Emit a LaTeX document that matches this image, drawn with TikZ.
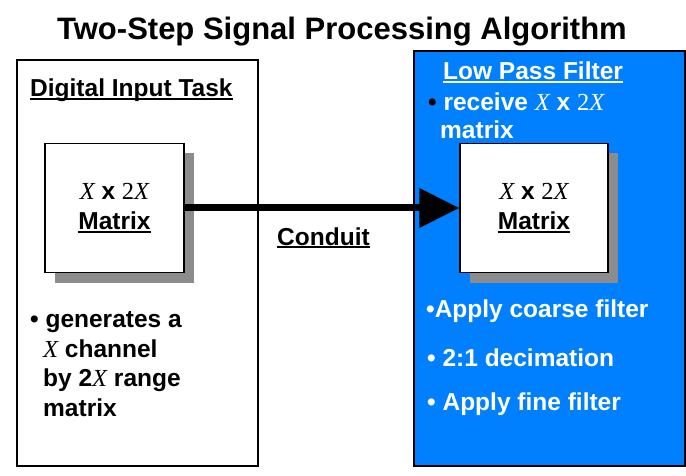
\documentclass[tikz,border=0pt]{standalone}
\usepackage{fontspec}
\setmainfont{Liberation Sans}
\newfontfamily\tnr{Liberation Serif}
\usetikzlibrary{arrows.meta,shadows}

\definecolor{lpfblue}{HTML}{0080FF}
\definecolor{shade}{HTML}{8C8C8C}

% italic serif variable and a plain underline
\newcommand\vX{{\tnr\mdseries\itshape X}}
\newcommand\two{{\tnr\mdseries 2}}
\newcommand\undl[1]{\setbox0\hbox{#1}\rlap{\rule[-3pt]{\wd0}{1.6pt}}\box0}

\tikzset{
  body/.style={font=\fontsize{24.5}{28}\selectfont\bfseries, inner sep=0pt, anchor=base west},
  matbox/.style={draw, fill=white, line width=1.2pt, minimum height=129pt,
    align=center, font=\fontsize{24.5}{30}\selectfont\bfseries,
    general shadow={fill=shade, shadow xshift=10pt, shadow yshift=-10pt}},
}

\begin{document}
\begin{tikzpicture}[x=1pt,y=-1pt]
  \useasboundingbox (0,0) rectangle (686,476);

  \node (title) [font=\fontsize{31}{36}\selectfont\bfseries, inner sep=0pt, anchor=base] at (342,40) {Two-Step Signal Processing Algorithm};

  % the two tasks
  \draw[line width=1.2pt] (17,60) rectangle (258,466);
  \draw[line width=1.2pt, fill=lpfblue] (414,51) rectangle (685,466);

  % left: digital input
  \node (dit) [body] at (30,97) {\undl{Digital Input Task}};
  \node (srcmat) [matbox, minimum width=139pt] at (114.5,208) {\vX\ x \two\vX\\\undl{Matrix}};
  \node (gen1) [body] at (30,327) {\textbullet\ generates a};
  \node (gen2) [body] at (43,357) {\vX\ channel};
  \node (gen3) [body] at (43,386) {by 2\vX\ range};
  \node (gen4) [body] at (43,416) {matrix};

  % right: low pass filter
  \node (lpf) [body, text=white] at (443,80) {\undl{Low Pass Filter}};
  \node (rcv1) [body, text=white] at (428,111) {{\color{black}\textbullet}\ receive \vX\ x \two\vX};
  \node (rcv2) [body, text=white] at (440,139) {matrix};
  \node (dstmat) [matbox, minimum width=148pt] at (534,208) {\vX\ x \two\vX\\\undl{Matrix}};
  \node (step1) [body, text=white] at (426,317) {\textbullet Apply coarse filter};
  \node (step2) [body, text=white] at (427,366) {\textbullet\ 2:1 decimation};
  \node (step3) [body, text=white] at (427,410) {\textbullet\ Apply fine filter};

  % conduit
  \draw[line width=7pt, -{Triangle[length=40pt,width=38pt]}] (srcmat) -- (dstmat);
  \node (conduit) [body] at (277,245) {\undl{Conduit}};
\end{tikzpicture}
\end{document}
